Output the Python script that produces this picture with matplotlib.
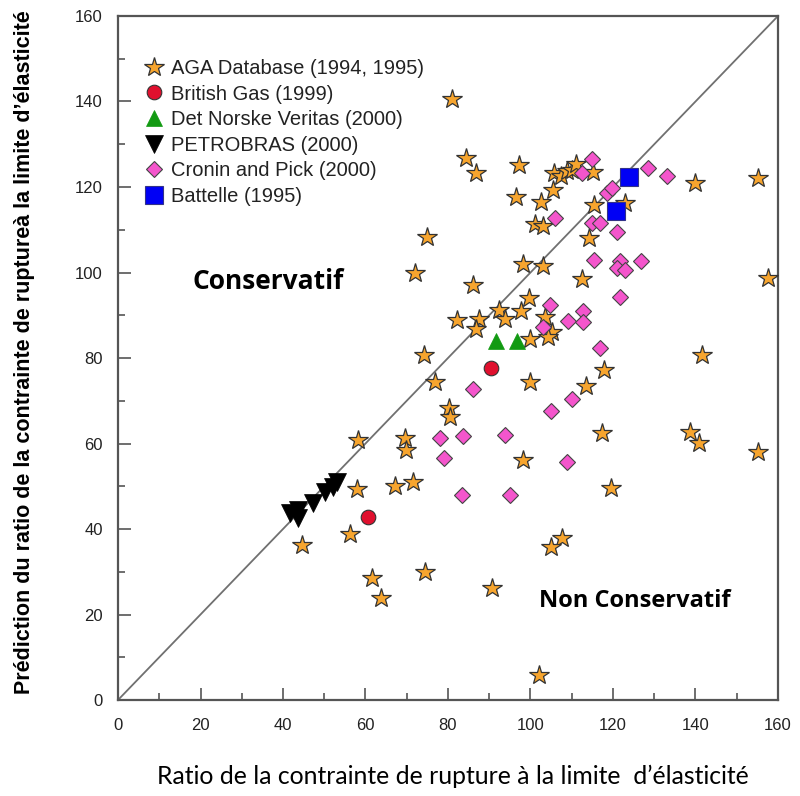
import numpy as np
import matplotlib
matplotlib.use('Agg')
import matplotlib.pyplot as plt
from matplotlib.ticker import MultipleLocator

# AGA Database (1994, 1995)
aga_x = [81.0, 84.3, 86.9, 97.1, 96.6, 102.5, 105.5, 105.7, 107.3, 108.9, 110.0, 111.0,
         115.2, 101.1, 103.1, 74.8, 115.5, 114.3, 123.0, 140.0, 155.2, 157.6, 112.4, 98.3,
         103.1, 72.0, 86.0, 99.7, 92.4, 97.6, 82.1, 87.5, 86.8, 93.8, 103.5, 105.1, 104.3,
         99.9, 74.2, 141.5, 117.8, 76.8, 99.9, 113.5, 80.3, 80.5, 58.3, 69.6, 69.8, 117.3,
         138.7, 140.9, 155.2, 98.1, 57.9, 67.2, 71.4, 119.5, 56.2, 44.5, 107.6, 104.9,
         61.5, 74.4, 63.8, 90.7, 102.1]
aga_y = [140.6, 126.9, 123.3, 125.2, 117.7, 116.6, 119.3, 123.2, 122.6, 123.8, 124.0, 125.4,
         123.6, 111.3, 110.9, 108.2, 115.8, 108.1, 116.3, 121.0, 122.2, 98.6, 98.5, 101.9,
         101.6, 99.8, 97.1, 94.0, 91.2, 91.1, 88.9, 89.1, 86.9, 89.1, 89.7, 86.1, 84.8,
         84.4, 80.7, 80.7, 77.2, 74.3, 74.5, 73.5, 68.2, 66.1, 60.8, 61.4, 58.5, 62.4,
         62.8, 60.2, 58.1, 56.1, 49.4, 50.1, 51.1, 49.5, 38.8, 36.3, 37.8, 35.9,
         28.6, 30.0, 23.8, 26.1, 5.8]

# British Gas (1999)
bg_x = [90.4, 60.6]
bg_y = [77.7, 42.9]

# Det Norske Veritas (2000)
dnv_x = [91.6, 96.7]
dnv_y = [84.0, 84.0]

# PETROBRAS (2000)
pet_x = [41.7, 43.7, 43.7, 47.3, 50.2, 52.2, 53.0]
pet_y = [43.7, 44.4, 42.5, 46.0, 48.7, 49.9, 51.1]

# Cronin and Pick (2000)
cp_x = [115.0, 112.6, 128.6, 133.0, 106.0, 118.5, 119.8, 114.8, 116.8, 120.9, 115.5,
        121.7, 121.0, 122.9, 126.7, 121.7, 104.7, 112.7, 109.0, 112.7, 103.0, 116.8,
        86.1, 110.0, 104.9, 78.1, 83.6, 93.8, 79.0, 108.8, 83.3, 95.0]
cp_y = [126.5, 123.3, 124.5, 122.6, 112.7, 118.6, 119.8, 111.5, 111.5, 109.5, 102.9,
        102.6, 101.0, 100.5, 102.7, 94.3, 92.4, 91.1, 88.7, 88.4, 87.3, 82.3,
        72.7, 70.3, 67.7, 61.4, 61.8, 62.0, 56.5, 55.7, 48.0, 48.0]

# Battelle (1995)
bat_x = [124.0, 120.7]
bat_y = [122.4, 114.4]

fig = plt.figure(figsize=(8, 7.96), dpi=100)
ax = fig.add_axes([0.1475, 0.1206, 0.825, 0.8593])

ax.plot([0, 160], [0, 160], color='#707070', lw=1.3, zorder=1)

edge = '#333333'
ax.plot(aga_x, aga_y, ls='none', marker='*', ms=14.5, mfc='#F7A52E', mec=edge, mew=0.9,
        label='AGA Database (1994, 1995)', zorder=3)
ax.plot(bg_x, bg_y, ls='none', marker='o', ms=10.5, mfc='#E0102E', mec=edge, mew=0.8,
        label='British Gas (1999)', zorder=3)
ax.plot(dnv_x, dnv_y, ls='none', marker='^', ms=12, mfc='#129A12', mec='#129A12', mew=0.5,
        label='Det Norske Veritas (2000)', zorder=3)
ax.plot(pet_x, pet_y, ls='none', marker='v', ms=13.5, mfc='black', mec='black', mew=0.5,
        label='PETROBRAS (2000)', zorder=3)
ax.plot(cp_x, cp_y, ls='none', marker='D', ms=8.5, mfc='#F455CC', mec='#444444', mew=0.8,
        label='Cronin and Pick (2000)', zorder=3)
ax.plot(bat_x, bat_y, ls='none', marker='s', ms=13, mfc='#0000F5', mec='#333388', mew=0.8,
        label='Battelle (1995)', zorder=4)

ax.set_xlim(0, 160)
ax.set_ylim(0, 160)
ax.xaxis.set_major_locator(MultipleLocator(20))
ax.xaxis.set_minor_locator(MultipleLocator(10))
ax.yaxis.set_major_locator(MultipleLocator(20))
ax.yaxis.set_minor_locator(MultipleLocator(10))
ax.tick_params(which='both', direction='in', color='#555555', width=1.2)
ax.tick_params(which='major', length=9)
ax.tick_params(which='minor', length=5)
ax.tick_params(axis='x', pad=13, labelsize=12)
ax.tick_params(axis='y', pad=11, labelsize=12)
for lab in ax.get_xticklabels() + ax.get_yticklabels():
    lab.set_fontfamily('Liberation Sans')
    lab.set_color('#222222')
for sp in ax.spines.values():
    sp.set_color('#555555')
    sp.set_linewidth(1.6)

ax.set_xlabel('Ratio de la contrainte de rupture à la limite  d’élasticité',
              fontsize=17.8, family='Lato')
ax.xaxis.set_label_coords(0.507, -0.095)
ax.set_ylabel('Prédiction du ratio de la contrainte de ruptureà la limite d’élasticité',
              fontsize=15.5, family='Liberation Sans', fontweight='bold')
ax.yaxis.set_label_coords(-0.125, 0.508)

ax.text(36.4, 98, 'Conservatif', fontsize=19, family='Open Sans', fontweight='bold',
        ha='center', va='center')
ax.text(125.3, 23.2, 'Non Conservatif', fontsize=17, family='Open Sans', fontweight='bold',
        ha='center', va='center')

leg = ax.legend(loc='upper left', bbox_to_anchor=(0.02, 0.955), frameon=False,
                prop={'family': 'Liberation Sans', 'size': 14.5}, handletextpad=0.3,
                labelspacing=0.33, handlelength=1.1, borderaxespad=0.2)
for t in leg.get_texts():
    t.set_color('#222222')

fig.savefig('out.png', dpi=100)
